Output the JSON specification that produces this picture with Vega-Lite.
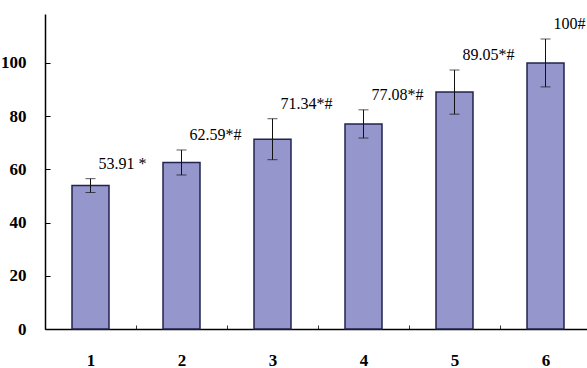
{
  "$schema": "https://vega.github.io/schema/vega-lite/v6.json",
  "width": 546,
  "height": 315,
  "autosize": "none",
  "padding": {"left": 45, "top": 14, "right": 0, "bottom": 39},
  "background": "white",
  "config": {
    "view": {"stroke": null},
    "font": "Liberation Serif"
  },
  "data": {
    "values": [
      {"group": "1", "value": 53.91, "err": 2.6, "upper": 56.51, "label": "53.91 *"},
      {"group": "2", "value": 62.59, "err": 4.7, "upper": 67.29, "label": "62.59*#"},
      {"group": "3", "value": 71.34, "err": 7.7, "upper": 79.04, "label": "71.34*#"},
      {"group": "4", "value": 77.08, "err": 5.3, "upper": 82.38, "label": "77.08*#"},
      {"group": "5", "value": 89.05, "err": 8.3, "upper": 97.35, "label": "89.05*#"},
      {"group": "6", "value": 100, "err": 9.0, "upper": 109.0, "label": "100#"}
    ]
  },
  "encoding": {
    "x": {
      "field": "group", "type": "ordinal", "title": null,
      "scale": {"paddingInner": 0, "paddingOuter": 0},
      "axis": {
        "labelAngle": 0, "labelFont": "Liberation Serif", "labelFontSize": 17,
        "labelFontWeight": "bold", "labelColor": "black", "labelPadding": 27,
        "domainColor": "black", "domainWidth": 1.5,
        "ticks": true, "tickBand": "extent", "tickSize": -4, "tickColor": "#333",
        "grid": false
      }
    }
  },
  "layer": [
    {
      "mark": {"type": "bar", "size": 37, "fill": "#9596CB", "stroke": "#23234f", "strokeWidth": 1.5},
      "encoding": {
        "y": {
          "field": "value", "type": "quantitative", "title": null,
          "scale": {"domain": [0, 118.4], "nice": false},
          "axis": {
            "values": [0, 20, 40, 60, 80, 100],
            "labelFont": "Liberation Serif", "labelFontSize": 17, "labelFontWeight": "bold",
            "labelColor": "black", "labelPadding": 24, "tickSize": -5, "tickColor": "black",
            "domainColor": "black", "domainWidth": 1.5, "grid": false
          }
        }
      }
    },
    {
      "mark": {"type": "errorbar", "ticks": {"size": 10, "color": "#111"}, "rule": {"color": "#111"}},
      "encoding": {
        "y": {"field": "value", "type": "quantitative"},
        "yError": {"field": "err"}
      }
    },
    {
      "mark": {"type": "text", "align": "left", "baseline": "middle", "dx": 8, "dy": -15, "font": "Liberation Serif", "fontSize": 16, "color": "black"},
      "encoding": {
        "y": {"field": "upper", "type": "quantitative"},
        "text": {"field": "label"}
      }
    }
  ]
}
